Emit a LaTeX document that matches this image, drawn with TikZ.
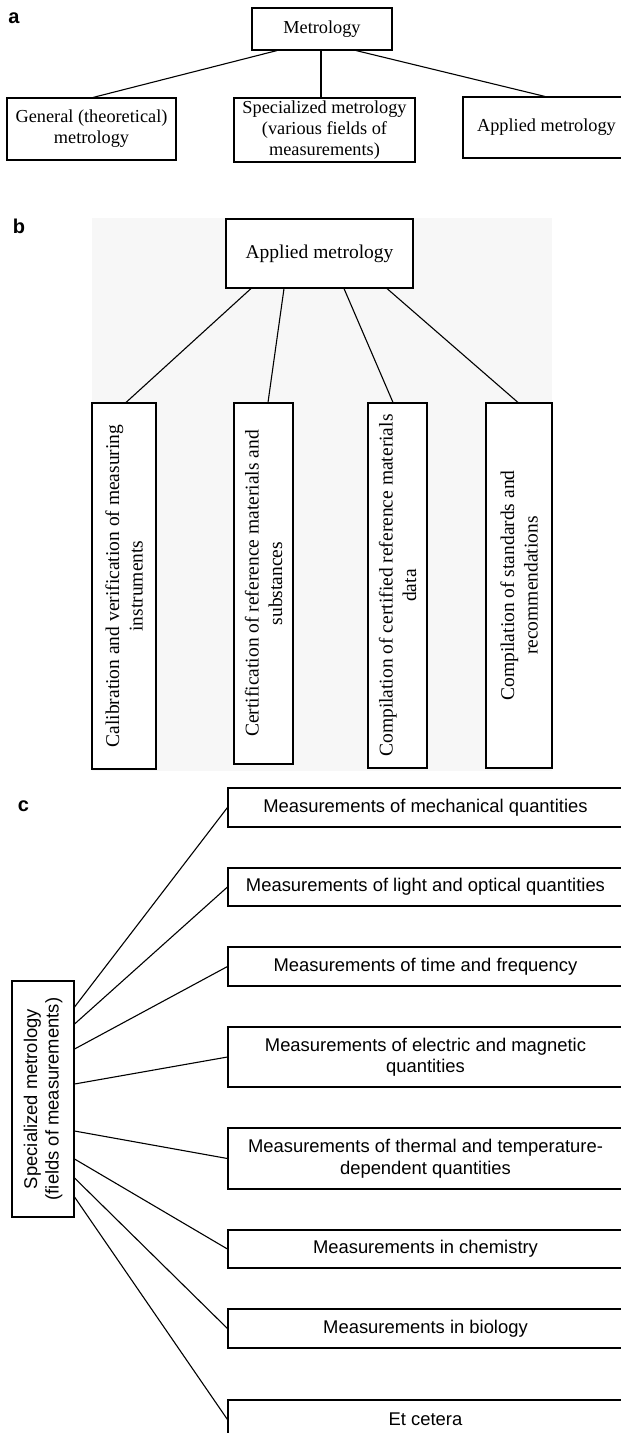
\documentclass[tikz,border=0pt]{standalone}
\usepackage{fontspec}
\setmainfont{Liberation Serif}
\setsansfont{Liberation Sans}
\usetikzlibrary{calc}
\definecolor{scanbg}{RGB}{247,247,247}
\begin{document}
\begin{tikzpicture}[x=1pt,y=-1pt,
  lbl/.style={anchor=base,inner sep=0pt,font=\fontsize{20}{20}\sffamily\bfseries},
  abox/.style={draw,line width=1.1pt,inner sep=0pt,align=center,font=\fontsize{18.3}{21}\selectfont},
  bbox/.style={draw,line width=1.1pt,fill=white,inner sep=0pt,align=center,font=\fontsize{19.5}{23.5}\selectfont},
  cbox/.style={draw,line width=1.1pt,inner sep=0pt,align=center,font=\fontsize{18.4}{21.5}\sffamily},
  conn/.style={line width=1.1pt},
]
\useasboundingbox (0,0) rectangle (621,1433);
\clip (0,0) rectangle (621,1433);
\fill[white] (0,0) rectangle (621,1433);

% ---------------- panel a
\node[lbl] (la) at (14,23) {a};
\node[abox,minimum width=140,minimum height=42] (met) at (322,29) {Metrology};
\node[abox,minimum width=169,minimum height=62] (gen) at (91.5,129) {General (theoretical)\\metrology};
\node[abox,minimum width=181,minimum height=64] (spec) at (324.5,130) {Specialized metrology\\(various fields of\\measurements)};
\node[abox,minimum width=167,minimum height=61] (app) at (546.5,127.5) {Applied metrology};
\draw[conn] ([xshift=-45pt]met.south) -- ([xshift=1.5pt]gen.north);
\draw[conn] ([xshift=-1pt]met.south) -- ([xshift=-3.5pt]spec.north);
\draw[conn] ([xshift=34pt]met.south) -- ([xshift=-1.5pt]app.north);

% ---------------- panel b
\node[lbl] (lb) at (19,233) {b};
\fill[scanbg] (92,218) rectangle (552,771);
\node[bbox,minimum width=187,minimum height=69] (apl) at (319.5,253.5) {Applied metrology};
\node[bbox,rotate=90,minimum width=366,minimum height=64] (b1) at (124,586)
  {Calibration and verification of measuring\\instruments};
\node[bbox,rotate=90,minimum width=361,minimum height=59] (b2) at (263.5,583.5)
  {Certification of reference materials and\\substances};
\node[bbox,rotate=90,minimum width=365,minimum height=59] (b3) at (397.5,585.5)
  {Compilation of certified reference materials\\data};
\node[bbox,rotate=90,minimum width=365,minimum height=66] (b4) at (519,585.5)
  {Compilation of standards and\\recommendations};
\draw[conn] ([xshift=-68.5pt]apl.south) -- ([xshift=2pt]b1.east);
\draw[conn] ([xshift=-35.5pt]apl.south) -- ([xshift=4.5pt]b2.east);
\draw[conn] ([xshift=24.5pt]apl.south) -- ([xshift=-4.5pt]b3.east);
\draw[conn] ([xshift=67.5pt]apl.south) -- ([xshift=-1pt]b4.east);

% ---------------- panel c
\node[lbl] (lc) at (23.5,811) {c};
\node[cbox,rotate=90,minimum width=236,minimum height=62] (sm) at (43,1099)
  {Specialized metrology\\(fields of measurements)};
\node[cbox,minimum width=395,minimum height=39] (m1) at (425.5,807.5) {Measurements of mechanical quantities};
\node[cbox,minimum width=395,minimum height=38] (m2) at (425.5,887) {Measurements of light and optical quantities};
\node[cbox,minimum width=395,minimum height=39] (m3) at (425.5,966.5) {Measurements of time and frequency};
\node[cbox,minimum width=395,minimum height=60] (m4) at (425.5,1057) {Measurements of electric and magnetic\\quantities};
\node[cbox,minimum width=395,minimum height=61] (m5) at (425.5,1158.5) {Measurements of thermal and temperature-\\dependent quantities};
\node[cbox,minimum width=395,minimum height=38] (m6) at (425.5,1249) {Measurements in chemistry};
\node[cbox,minimum width=395,minimum height=39] (m7) at (425.5,1328.5) {Measurements in biology};
\node[cbox,minimum width=395,minimum height=39] (m8) at (425.5,1419.5) {Et cetera};
\draw[conn] ($(sm.south)+(0,-92)$) -- (m1.west);
\draw[conn] ($(sm.south)+(0,-75)$) -- (m2.west);
\draw[conn] ($(sm.south)+(0,-50)$) -- (m3.west);
\draw[conn] ($(sm.south)+(0,-15)$) -- (m4.west);
\draw[conn] ($(sm.south)+(0,32)$) -- (m5.west);
\draw[conn] ($(sm.south)+(0,60)$) -- (m6.west);
\draw[conn] ($(sm.south)+(0,79)$) -- (m7.west);
\draw[conn] ($(sm.south)+(0,98)$) -- (m8.west);
\end{tikzpicture}
\end{document}
